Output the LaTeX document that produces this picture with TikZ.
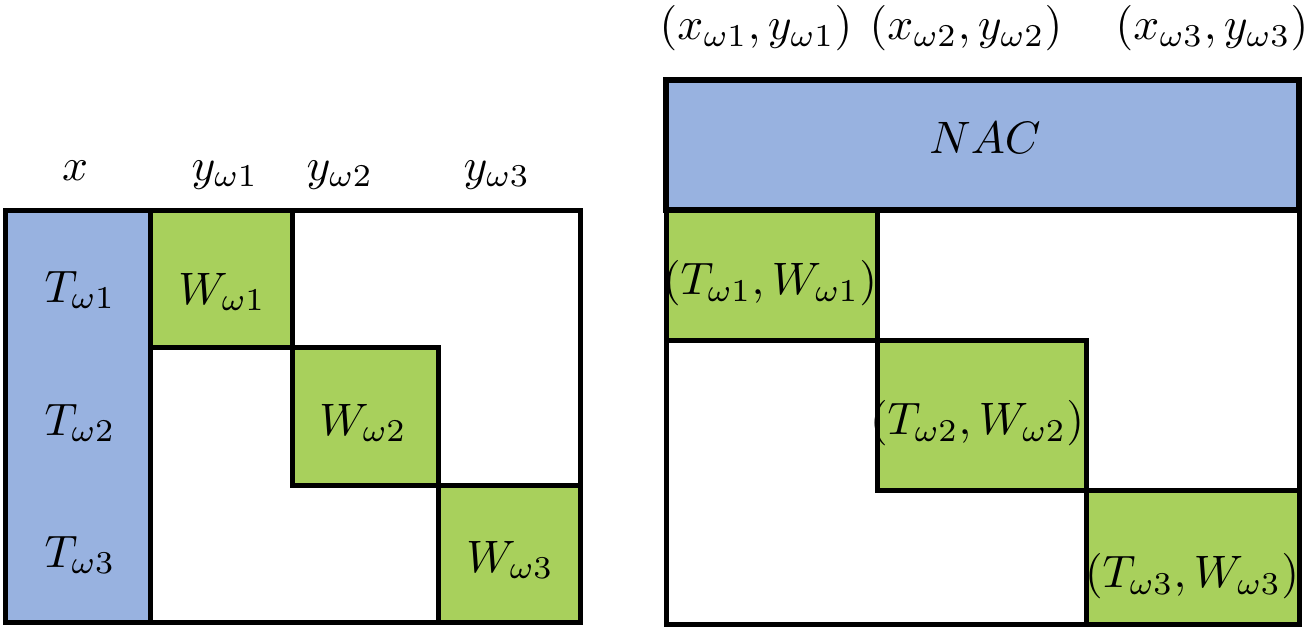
\documentclass[tikz,border=0pt]{standalone}
\usepackage{amsmath, amssymb}
\usepackage{tikz}
\usepackage{xcolor}
\usetikzlibrary{positioning}

\definecolor{tblue}{RGB}{152,178,224}
\definecolor{wgreen}{RGB}{168,208,92}

\tikzset{
  cellline/.style={line width=1.1pt, line join=miter},
  barline/.style={line width=1.5pt, line join=miter},
  lbl/.style={inner sep=0pt}
}

\begin{document}
\begin{tikzpicture}[x=0.7733cm, y=-0.7733cm]
\useasboundingbox (0,0) rectangle (13.05,6.29);

% Matrice di sinistra
\fill[tblue] (0.055,2.105) rectangle (1.505,6.22);
\foreach \xa/\ya/\xb/\yb in {1.505/2.105/2.925/3.47, 2.925/3.47/4.38/4.855, 4.38/4.855/5.80/6.22}{
    \draw[cellline, fill=wgreen] (\xa,\ya) rectangle (\xb,\yb);
}
\draw[cellline] (0.055,2.105) rectangle (5.80,6.22);
\draw[cellline] (1.505,2.105) -- (1.505,6.22);

\node[lbl, anchor=base] (hx) at (0.75,1.80) {$x$};
\node[lbl, anchor=base] (hy1) at (2.25,1.80) {$y_{\omega1}$};
\node[lbl, anchor=base] (hy2) at (3.40,1.80) {$y_{\omega2}$};
\node[lbl, anchor=base] (hy3) at (4.97,1.80) {$y_{\omega3}$};

\foreach \i/\y in {1/2.90, 2/4.23, 3/5.55}{
    \node[lbl] (t\i) at (0.80,\y) {$T_{\omega\i}$};
}
\node[lbl] (w1) at (2.22,2.92) {$W_{\omega1}$};
\node[lbl] (w2) at (3.63,4.23) {$W_{\omega2}$};
\node[lbl] (w3) at (5.10,5.60) {$W_{\omega3}$};

% Matrice di destra
\draw[barline, fill=tblue] (6.66,0.80) rectangle (12.99,2.10);
\node[lbl] (nac) at (9.85,1.38) {$NAC$};
\foreach \xa/\ya/\xb/\yb in {6.66/2.10/8.77/3.40, 8.77/3.40/10.86/4.90, 10.86/4.90/12.99/6.24}{
    \draw[cellline, fill=wgreen] (\xa,\ya) rectangle (\xb,\yb);
}
\draw[cellline] (6.66,2.10) rectangle (12.99,6.24);

\foreach \i/\x in {1/7.56, 2/9.66, 3/12.12}{
    \node[lbl] (xy\i) at (\x,0.28) {$(x_{\omega\i},y_{\omega\i})$};
}
\node[lbl] (tw1) at (7.70,2.83) {$(T_{\omega1},W_{\omega1})$};
\node[lbl] (tw2) at (9.77,4.23) {$(T_{\omega2},W_{\omega2})$};
\node[lbl] (tw3) at (11.92,5.76) {$(T_{\omega3},W_{\omega3})$};
\end{tikzpicture}
\end{document}
